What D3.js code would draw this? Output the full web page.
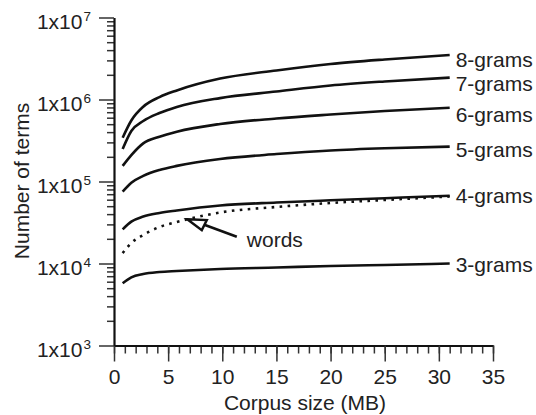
<!DOCTYPE html>
<html>
<head>
<meta charset="utf-8">
<script src="https://cdn.jsdelivr.net/npm/d3@7"></script>
<style>
  body { margin: 0; background: #fff; }
  text { font-family: "Liberation Sans", Arial, Helvetica, sans-serif; fill: #222; }
</style>
</head>
<body>
<svg id="chart" width="536" height="415"></svg>
<script>
"use strict"

// corpus sizes (MB) where the counts were read
const corpusMB = [0.8, 1.6, 2.7, 4.2, 5.8, 9.8, 15, 20, 25, 31];

// number of distinct terms per series
const grams8 = [342e3, 555e3, 817e3, 1.07e6, 1.29e6, 1.80e6, 2.26e6, 2.71e6, 3.08e6, 3.49e6];
const grams7 = [249e3, 413e3, 547e3, 684e3, 811e3, 1.04e6, 1.25e6, 1.48e6, 1.66e6, 1.85e6];
const grams6 = [155e3, 210e3, 292e3, 352e3, 405e3, 503e3, 587e3, 656e3, 724e3, 794e3];
const grams5 = [75.1e3, 96.6e3, 117e3, 138e3, 155e3, 188e3, 216e3, 239e3, 254e3, 266e3];
const grams4 = [26.1e3, 32.4e3, 37.4e3, 41.3e3, 44.3e3, 50.9e3, 55.4e3, 59.0e3, 62.6e3, 67.1e3];
const words  = [13.4e3, 17.8e3, 22.3e3, 27.9e3, 32.1e3, 41.9e3, 48.9e3, 54.7e3, 59.5e3, 65.6e3];
const grams3 = [5.74e3, 6.79e3, 7.45e3, 7.87e3, 8.10e3, 8.57e3, 8.94e3, 9.33e3, 9.60e3, 10.0e3];

const seriesNames = ["8-grams", "7-grams", "6-grams", "5-grams", "4-grams", "3-grams"];
const seriesValues = [grams8, grams7, grams6, grams5, grams4, grams3];

// axis ticks
const xMajor = [0, 5, 10, 15, 20, 25, 30, 35];
const yExponents = [3, 4, 5, 6, 7];

// end labels are nudged a bit differently for each line in the original
const labelDy = [11.7, 13.3, 14.6, 10, 7.6, 8.7];

const svg = d3.select("#chart");

const x = d3.scaleLinear().domain([0, 35]).range([114, 493]);
const y = d3.scaleLog().domain([1e3, 1e7]).range([345.5, 17.5]);

//--------------------------------------//
//----------------AXES------------------//
//--------------------------------------//

// minor x ticks every MB
svg.append("g")
    .attr("transform", `translate(0,${y(1e3)})`)
    .call(d3.axisBottom(x).tickValues(d3.range(0, 36, 1)).tickSize(8).tickSizeOuter(0).tickFormat(""))
    .call(g => g.select(".domain").remove())
    .call(g => g.selectAll("line").attr("stroke", "#333").attr("stroke-width", 1.5));

// major x ticks + labels
svg.append("g")
    .attr("transform", `translate(0,${y(1e3)})`)
    .call(d3.axisBottom(x).tickValues(xMajor).tickSize(16).tickSizeOuter(0).tickPadding(7.5))
    .call(g => g.select(".domain").attr("stroke", "#111").attr("stroke-width", 2.2))
    .call(g => g.selectAll("line").attr("stroke", "#333").attr("stroke-width", 1.5))
    .call(g => g.selectAll("text").attr("font-size", 21).attr("font-family", null).attr("fill", "#222"));

// minor y ticks (2..9 in each decade)
let yMinor = [];
yExponents.slice(0, -1).forEach(e => {
    for (let m = 2; m < 10; m++) yMinor.push(m * Math.pow(10, e));
});

svg.append("g")
    .attr("transform", `translate(${x(0)},0)`)
    .call(d3.axisLeft(y).tickValues(yMinor).tickSize(7).tickSizeOuter(0).tickFormat(""))
    .call(g => g.select(".domain").remove())
    .call(g => g.selectAll("line").attr("stroke", "#333").attr("stroke-width", 1.5));

svg.append("g")
    .attr("transform", `translate(${x(0)},0)`)
    .call(d3.axisLeft(y).tickValues(yExponents.map(e => Math.pow(10, e))).tickSize(15).tickSizeOuter(0).tickFormat(""))
    .call(g => g.select(".domain").attr("stroke", "#111").attr("stroke-width", 2.2))
    .call(g => g.selectAll("line").attr("stroke", "#333").attr("stroke-width", 1.5));

// 1x10^n labels with superscript exponent
yExponents.forEach(e => {
    const t = svg.append("text")
        .attr("x", 91)
        .attr("y", y(Math.pow(10, e)) + 11)
        .attr("text-anchor", "end")
        .attr("font-size", 21);
    t.append("tspan").text("1x10");
    t.append("tspan").attr("font-size", 13.5).attr("dx", 1).attr("dy", -8).text(e);
});

// axis titles
svg.append("text")
    .attr("transform", "translate(29,181) rotate(-90)")
    .attr("text-anchor", "middle")
    .attr("font-size", 21)
    .text("Number of terms");

svg.append("text")
    .attr("x", 305)
    .attr("y", 410)
    .attr("text-anchor", "middle")
    .attr("font-size", 21)
    .text("Corpus size (MB)");

//--------------------------------------//
//---------------CURVES-----------------//
//--------------------------------------//

const line = d3.line()
    .x((d, i) => x(corpusMB[i]))
    .y(d => y(d))
    .curve(d3.curveMonotoneX);

seriesValues.forEach((vals, i) => {
    svg.append("path")
        .attr("d", line(vals))
        .attr("fill", "none")
        .attr("stroke", "#111")
        .attr("stroke-width", 2.6);

    svg.append("text")
        .attr("x", x(corpusMB[corpusMB.length - 1]) + 6)
        .attr("y", y(vals[vals.length - 1]) + labelDy[i])
        .attr("font-size", 21)
        .text(seriesNames[i]);
});

// single words, dotted
svg.append("path")
    .attr("d", line(words))
    .attr("fill", "none")
    .attr("stroke", "#111")
    .attr("stroke-width", 2.6)
    .attr("stroke-dasharray", "2.6 5.4");

// arrow pointing at the words curve
const tipX = x(6.77), tipY = y(34.6e3);
svg.append("line")
    .attr("x1", tipX + 17).attr("y1", tipY + 5.5)
    .attr("x2", tipX + 49.5).attr("y2", tipY + 17.5)
    .attr("stroke", "#111")
    .attr("stroke-width", 2.6);

svg.append("polygon")
    .attr("points", [[tipX, tipY], [tipX + 19.5, tipY + 0.8], [tipX + 14.5, tipY + 10.8]].join(" "))
    .attr("fill", "#fff")
    .attr("stroke", "#111")
    .attr("stroke-width", 2.4)
    .attr("stroke-linejoin", "miter");

svg.append("text")
    .attr("x", tipX + 59.5)
    .attr("y", tipY + 28)
    .attr("font-size", 21)
    .text("words");
</script>
</body>
</html>
